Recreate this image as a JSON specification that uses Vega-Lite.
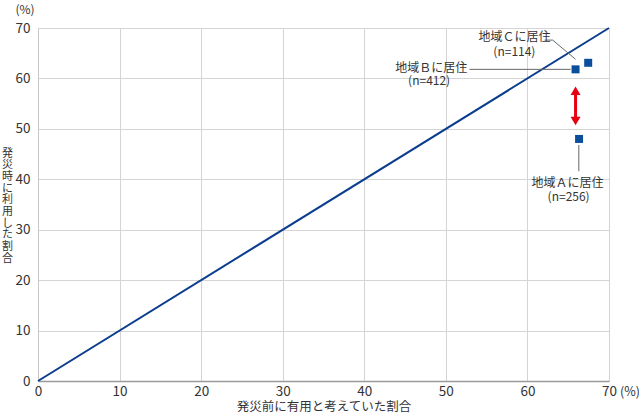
{
  "$schema": "https://vega.github.io/schema/vega-lite/v6.json",
  "width": 571,
  "height": 353,
  "autosize": {"type": "none"},
  "padding": {"left": 38, "top": 28, "right": 30, "bottom": 33},
  "background": "white",
  "config": {
    "view": {"stroke": null},
    "font": "Noto Sans CJK JP",
    "axis": {
      "labelFont": "Noto Sans CJK JP",
      "titleFont": "Noto Sans CJK JP",
      "labelColor": "#333333",
      "titleColor": "#333333",
      "labelFontSize": 13.5,
      "gridColor": "#d4d4d4",
      "gridWidth": 1,
      "ticks": false,
      "titleFontWeight": "normal"
    }
  },
  "encoding": {
    "x": {
      "field": "x", "type": "quantitative",
      "scale": {"domain": [0, 70], "nice": false},
      "axis": {
        "values": [0, 10, 20, 30, 40, 50, 60, 70],
        "title": "発災前に有用と考えていた割合",
        "titleFontSize": 12.5,
        "titlePadding": 3,
        "labelPadding": 3,
        "domainColor": "#9a9a9a",
        "domainWidth": 1.5,
        "labelFlush": false
      }
    },
    "y": {
      "field": "y", "type": "quantitative",
      "scale": {"domain": [0, 70], "nice": false},
      "axis": {
        "values": [0, 10, 20, 30, 40, 50, 60, 70],
        "title": ["発", "災", "時", "に", "利", "用", "し", "た", "割", "合"],
        "titleFontSize": 11,
        "titleLineHeight": 11.7,
        "titleAngle": 0,
        "titleAlign": "center",
        "titleBaseline": "middle",
        "titleX": -31,
        "titleY": 125,
        "labelPadding": 8,
        "domainColor": "#c8c8c8",
        "labelFlush": false
      }
    }
  },
  "layer": [
    {
      "data": {"values": [{"x": 0, "y": 0}, {"x": 70, "y": 70}]},
      "mark": {"type": "line", "color": "#0b3d8e", "strokeWidth": 2}
    },
    {
      "data": {"values": [
        {"id": "C", "o": 1, "x": 62.1, "y": 67.6},
        {"id": "C", "o": 2, "x": 63.1, "y": 67.6},
        {"id": "C", "o": 3, "x": 65.9, "y": 63.8},
        {"id": "B", "o": 1, "x": 52.9, "y": 61.8},
        {"id": "B", "o": 2, "x": 65.3, "y": 61.8},
        {"id": "A", "o": 1, "x": 66.3, "y": 46.8},
        {"id": "A", "o": 2, "x": 66.3, "y": 41.6}
      ]},
      "mark": {"type": "line", "color": "#666666", "strokeWidth": 1},
      "encoding": {"detail": {"field": "id"}, "order": {"field": "o"}}
    },
    {
      "data": {"values": [{"x": 65.9, "y": 51.8, "y2": 57.3}]},
      "mark": {"type": "rule", "color": "#e60012", "strokeWidth": 3},
      "encoding": {"y2": {"field": "y2"}}
    },
    {
      "data": {"values": [
        {"x": 65.9, "y": 58.4, "dir": "up"},
        {"x": 65.9, "y": 50.7, "dir": "down"}
      ]},
      "mark": {"type": "point", "filled": true, "opacity": 1, "color": "#e60012", "size": 100, "strokeWidth": 0},
      "encoding": {
        "shape": {
          "field": "dir", "type": "nominal",
          "scale": {"domain": ["up", "down"], "range": ["M0,0L-1,1.7L1,1.7Z", "M0,0L-1,-1.7L1,-1.7Z"]},
          "legend": null
        }
      }
    },
    {
      "data": {"values": [
        {"region": "A", "x": 66.33, "y": 48.0},
        {"region": "B", "x": 65.9, "y": 61.8},
        {"region": "C", "x": 67.45, "y": 63.1}
      ]},
      "mark": {"type": "square", "color": "#0b4e9b", "size": 64, "opacity": 1}
    },
    {
      "data": {"values": [
        {"t": "地域Ｃに居住", "x": 58.4, "y": 68.2},
        {"t": "(n=114)", "x": 58.4, "y": 65.2},
        {"t": "地域Ｂに居住", "x": 48.2, "y": 62.0},
        {"t": "(n=412)", "x": 47.95, "y": 59.5},
        {"t": "地域Ａに居住", "x": 64.9, "y": 39.2},
        {"t": "(n=256)", "x": 65.05, "y": 36.5}
      ]},
      "mark": {"type": "text", "fontSize": 12, "color": "#333333", "align": "center", "baseline": "middle"},
      "encoding": {"text": {"field": "t"}}
    },
    {
      "data": {"values": [{"x": 70, "y": 0, "t": "(%)"}]},
      "mark": {"type": "text", "fontSize": 12.5, "color": "#333333", "align": "left", "baseline": "middle", "dx": 11, "dy": 11},
      "encoding": {"text": {"field": "t"}}
    },
    {
      "data": {"values": [{"x": 0, "y": 70, "t": "(%)"}]},
      "mark": {"type": "text", "fontSize": 12, "color": "#333333", "align": "center", "baseline": "middle", "dx": -13, "dy": -18.5},
      "encoding": {"text": {"field": "t"}}
    }
  ]
}
